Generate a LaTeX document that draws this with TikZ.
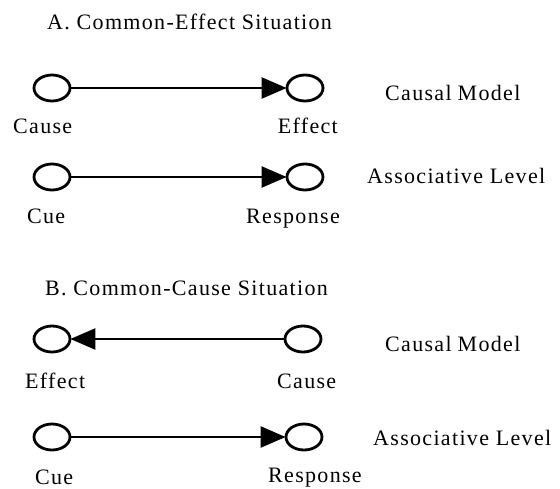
\documentclass[tikz,border=0pt]{standalone}
\usepackage{fontspec}
\setmainfont{Liberation Serif}[LetterSpace=6]
\usetikzlibrary{shapes.geometric,arrows.meta}
\begin{document}
\begin{tikzpicture}[x=1pt,y=-1pt,
  nd/.style={ellipse,draw,line width=2.8pt,minimum width=36pt,minimum height=26pt,inner sep=0pt},
  lbl/.style={inner sep=0pt,font=\fontsize{22}{26}\selectfont},
  conn/.style={line width=2.4pt,-{Triangle[length=25pt,width=21pt]},shorten >=-1pt}]
\useasboundingbox (0,0) rectangle (560,488);
% titles
\node[lbl,anchor=base west] (tA) at (47,29) {A. Common-Effect Situation};
\node[lbl,anchor=base west] (tB) at (45,295) {B. Common-Cause Situation};
% row 1
\node[nd] (c1) at (52,88) {};
\node[nd] (e1) at (305,88) {};
\draw[conn] (c1) -- (e1);
\node[lbl,anchor=base west] (lc1) at (13,133) {Cause};
\node[lbl,anchor=base east] (le1) at (338,133) {Effect};
\node[lbl,anchor=base west] (m1) at (385,100) {Causal\hspace{6pt}Model};
% row 2
\node[nd] (q2) at (52,177) {};
\node[nd] (r2) at (305,177) {};
\draw[conn] (q2) -- (r2);
\node[lbl,anchor=base west] (lq2) at (27,223) {Cue};
\node[lbl,anchor=base east] (lr2) at (340,223) {Response};
\node[lbl,anchor=base west] (a2) at (367,183) {Associative Level};
% row 3
\node[nd] (e3) at (52,339) {};
\node[nd] (c3) at (303,339) {};
\draw[conn] (c3) -- (e3);
\node[lbl,anchor=base west] (le3) at (25,388) {Effect};
\node[lbl,anchor=base west] (lc3) at (277,388) {Cause};
\node[lbl,anchor=base west] (m3) at (385,351) {Causal\hspace{6pt}Model};
% row 4
\node[nd] (q4) at (52,437) {};
\node[nd] (r4) at (304,437) {};
\draw[conn] (q4) -- (r4);
\node[lbl,anchor=base west] (lq4) at (35,484) {Cue};
\node[lbl,anchor=base west] (lr4) at (268,482) {Response};
\node[lbl,anchor=base west] (a4) at (373,445) {Associative Level};
\end{tikzpicture}
\end{document}
